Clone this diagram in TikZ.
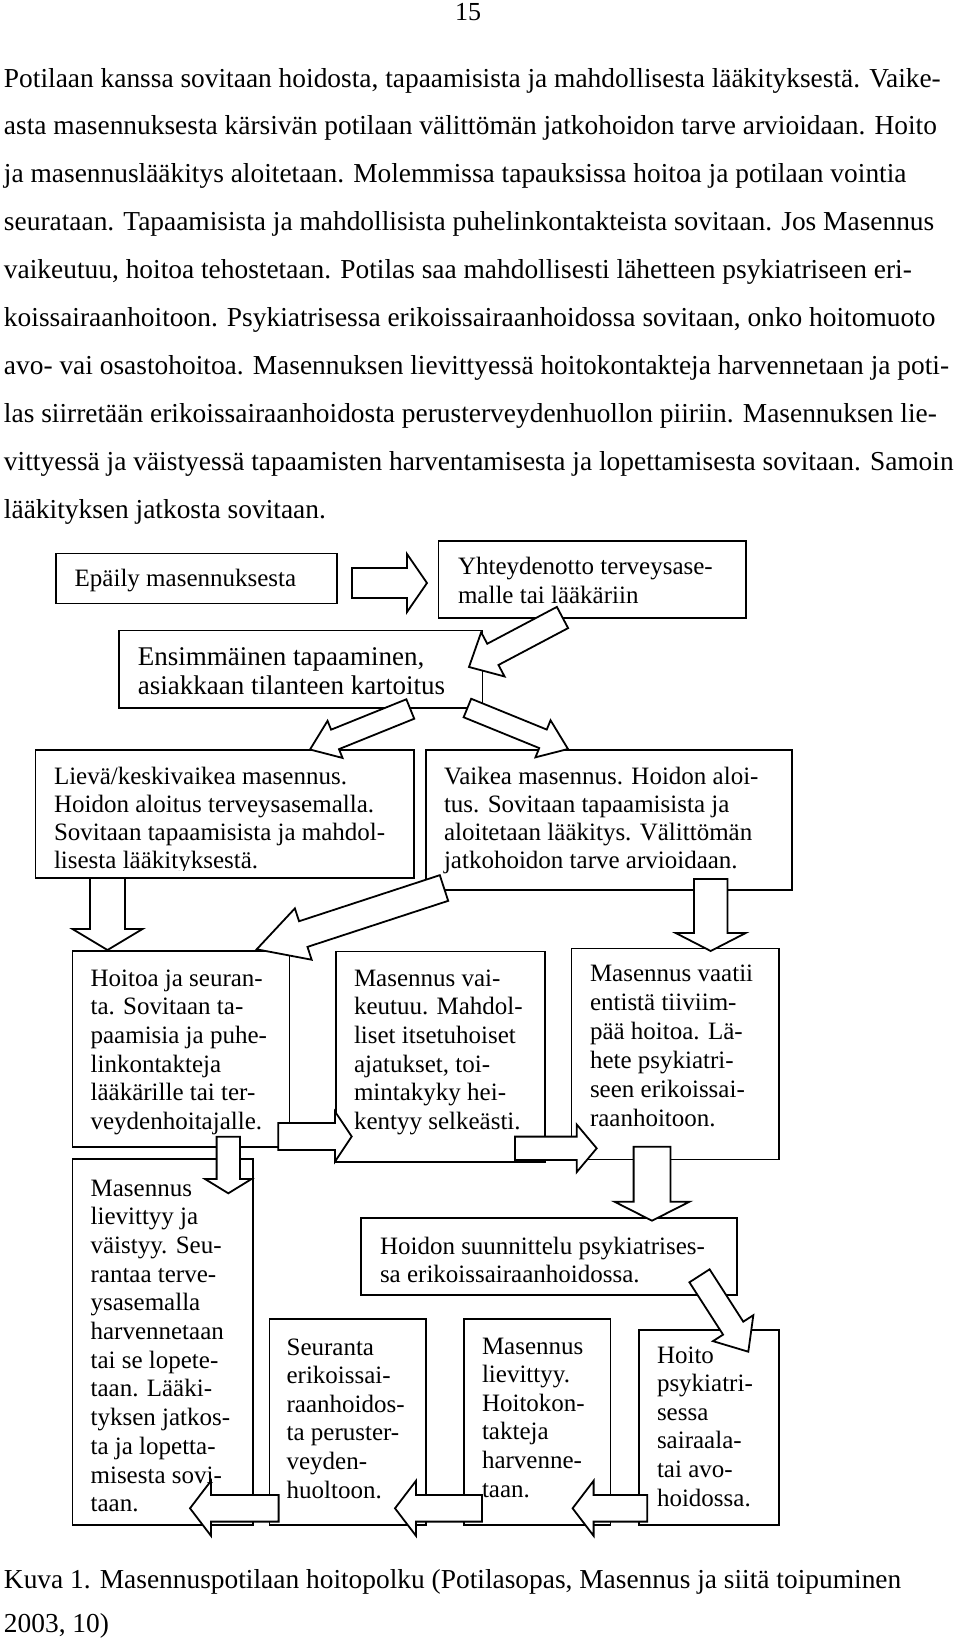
\documentclass[tikz,border=0pt]{standalone}
\usepackage{fontspec}
\setmainfont{Liberation Serif}
\usetikzlibrary{calc}
\newcommand\boxlines[2]{\vtop{\baselineskip=#1\lineskiplimit=-1000pt\lineskip=0pt\halign{##\hfil\cr#2\crcr}}}
\newcommand\blockarrow[5]{%
  \coordinate (ba-h) at ($(#2)!#5!(#1)$);
  \filldraw[barrow] ($(#1)!#3!90:(#2)$) -- ($(ba-h)!#3!-90:(#1)$) -- ($(ba-h)!#4!-90:(#1)$) -- (#2) -- ($(ba-h)!#4!90:(#1)$) -- ($(ba-h)!#3!90:(#1)$) -- ($(#1)!#3!-90:(#2)$) -- cycle;}
\tikzset{
  box/.style={draw=black, line width=1.8pt, fill=white, rectangle, inner sep=0pt, outer sep=0pt, anchor=north west},
  btext/.style={anchor=base west, inner sep=0pt, outer sep=0pt, font=\fontsize{25}{28.6}\selectfont},
  bodytext/.style={anchor=base west, inner sep=0pt, outer sep=0pt, font=\fontsize{27.4}{47.9}\selectfont},
  barrow/.style={draw=black, fill=white, line width=1.8pt, line join=miter}
}
\begin{document}
\begin{tikzpicture}[x=1pt,y=-1pt]
\fill[white] (0,0) rectangle (960,1641);
\useasboundingbox (0,0) rectangle (960,1641);

% page number and body text
\node[bodytext, anchor=base, font=\fontsize{26}{30}\selectfont] (pg) at (468,20) {15};
\node[bodytext] (l1) at (4,87) {Potilaan kanssa sovitaan hoidosta, tapaamisista ja mahdollisesta lääkityksestä. Vaike-};
\node[bodytext] (l2) at (4,134.9) {asta masennuksesta kärsivän potilaan välittömän jatkohoidon tarve arvioidaan. Hoito};
\node[bodytext] (l3) at (4,182.8) {ja masennuslääkitys aloitetaan. Molemmissa tapauksissa hoitoa ja potilaan vointia};
\node[bodytext] (l4) at (4,230.7) {seurataan. Tapaamisista ja mahdollisista puhelinkontakteista sovitaan. Jos Masennus};
\node[bodytext] (l5) at (4,278.6) {vaikeutuu, hoitoa tehostetaan. Potilas saa mahdollisesti lähetteen psykiatriseen eri-};
\node[bodytext] (l6) at (4,326.5) {koissairaanhoitoon. Psykiatrisessa erikoissairaanhoidossa sovitaan, onko hoitomuoto};
\node[bodytext] (l7) at (4,374.4) {avo- vai osastohoitoa. Masennuksen lievittyessä hoitokontakteja harvennetaan ja poti-};
\node[bodytext] (l8) at (4,422.3) {las siirretään erikoissairaanhoidosta perusterveydenhuollon piiriin. Masennuksen lie-};
\node[bodytext] (l9) at (4,470.2) {vittyessä ja väistyessä tapaamisten harventamisesta ja lopettamisesta sovitaan. Samoin};
\node[bodytext] (l10) at (4,518.1) {lääkityksen jatkosta sovitaan.};

% boxes
\node[box, minimum width=281pt, minimum height=50pt] (b1) at (56,553.5) {};
\node[box, minimum width=307.5pt, minimum height=77pt] (b2) at (438.5,541) {};
\node[box, minimum width=363.5pt, minimum height=77.5pt] (b3) at (119,630.5) {};
\node[box, minimum width=378.5pt, minimum height=128pt] (b4) at (35.5,750) {};
\node[box, minimum width=366pt, minimum height=140pt] (b5) at (426,750) {};
\node[box, minimum width=217pt, minimum height=196pt] (b6) at (72.5,951) {};
\node[box, minimum width=209.4pt, minimum height=210.5pt] (b7) at (335.6,951.5) {};
\node[box, minimum width=207.5pt, minimum height=211pt] (b8) at (571.5,948.5) {};
\node[box, minimum width=180.5pt, minimum height=366pt] (b9) at (72.5,1159) {};
\node[box, minimum width=376pt, minimum height=77pt] (b10) at (361,1218) {};
\node[box, minimum width=156.2pt, minimum height=206pt] (b11) at (269.4,1319) {};
\node[box, minimum width=146.9pt, minimum height=206pt] (b12) at (463.6,1319) {};
\node[box, minimum width=140.3pt, minimum height=195pt] (b13) at (638.7,1330) {};

% box texts
\node[btext] (t1) at (74.7,586.7) {\boxlines{28.6pt}{Epäily masennuksesta}};
\node[btext] (t2) at (458,574) {\boxlines{29.3pt}{Yhteydenotto terveysase-\cr malle tai lääkäriin}};
\node[btext, font=\fontsize{27}{30}\selectfont] (t3) at (137.8,665) {\boxlines{29.5pt}{Ensimmäinen tapaaminen,\cr asiakkaan tilanteen kartoitus}};
\begin{scope}
\clip (37,751) rectangle (412,870.5);
\node[btext] (t4) at (54,784) {\boxlines{28.2pt}{Lievä/keskivaikea masennus.\cr Hoidon aloitus terveysasemalla.\cr Sovitaan tapaamisista ja mahdol-\cr lisesta lääkityksestä.}};
\end{scope}
\node[btext] (t5) at (444,784) {\boxlines{28.2pt}{Vaikea masennus. Hoidon aloi-\cr tus. Sovitaan tapaamisista ja\cr aloitetaan lääkitys. Välittömän\cr jatkohoidon tarve arvioidaan.}};
\node[btext] (t6) at (90.6,986) {\boxlines{28.7pt}{Hoitoa ja seuran-\cr ta. Sovitaan ta-\cr paamisia ja puhe-\cr linkontakteja\cr lääkärille tai ter-\cr veydenhoitajalle.}};
\node[btext] (t7) at (354,986) {\boxlines{28.7pt}{Masennus vai-\cr keutuu. Mahdol-\cr liset itsetuhoiset\cr ajatukset, toi-\cr mintakyky hei-\cr kentyy selkeästi.}};
\node[btext] (t8) at (590,981.5) {\boxlines{28.9pt}{Masennus vaatii\cr entistä tiiviim-\cr pää hoitoa. Lä-\cr hete psykiatri-\cr seen erikoissai-\cr raanhoitoon.}};
\node[btext] (t9) at (90.6,1196) {\boxlines{28.7pt}{Masennus\cr lievittyy ja\cr väistyy. Seu-\cr rantaa terve-\cr ysasemalla\cr harvennetaan\cr tai se lopete-\cr taan. Lääki-\cr tyksen jatkos-\cr ta ja lopetta-\cr misesta sovi-\cr taan.}};
\node[btext] (t10) at (380,1254) {\boxlines{28.6pt}{Hoidon suunnittelu psykiatrises-\cr sa erikoissairaanhoidossa.}};
\node[btext] (t11) at (286.6,1355) {\boxlines{28.6pt}{Seuranta\cr erikoissai-\cr raanhoidos-\cr ta peruster-\cr veyden-\cr huoltoon.}};
\node[btext] (t12) at (482,1354) {\boxlines{28.6pt}{Masennus\cr lievittyy.\cr Hoitokon-\cr takteja\cr harvenne-\cr taan.}};
\node[btext] (t13) at (657,1363) {\boxlines{28.6pt}{Hoito\cr psykiatri-\cr sessa\cr sairaala-\cr tai avo-\cr hoidossa.}};

% arrow end points
\coordinate (a1s) at (352,583);      \coordinate (a1e) at (427,583);
\coordinate (a2s) at (562.5,617.5);  \coordinate (a2e) at (469,667);
\coordinate (a3s) at (410.3,709);    \coordinate (a3e) at (310,749.5);
\coordinate (a4s) at (467.4,708);    \coordinate (a4e) at (568,749);
\coordinate (a5s) at (107.5,878);    \coordinate (a5e) at (107.5,950);
\coordinate (a6s) at (444,888);      \coordinate (a6e) at (256.7,949.3);
\coordinate (a7s) at (710.7,879);    \coordinate (a7e) at (710.7,951);
\coordinate (a8s) at (278.3,1136.5); \coordinate (a8e) at (351.7,1136.5);
\coordinate (a9s) at (228.3,1136.7); \coordinate (a9e) at (228.3,1193.3);
\coordinate (a10s) at (515,1148.3);  \coordinate (a10e) at (596.7,1148.3);
\coordinate (a11s) at (652,1146.7);  \coordinate (a11e) at (652,1220.7);
\coordinate (a12s) at (699.5,1275.8);\coordinate (a12e) at (748.3,1351.7);
\coordinate (a13s) at (278.6,1508.3);\coordinate (a13e) at (190,1508.3);
\coordinate (a14s) at (482,1508.3);  \coordinate (a14e) at (395,1508.3);
\coordinate (a15s) at (647.3,1508.3);\coordinate (a15e) at (572.6,1508.3);

% block arrows
\blockarrow{a1s}{a1e}{15pt}{29pt}{20pt}
\blockarrow{a2s}{a2e}{12pt}{25pt}{27pt}
\blockarrow{a3s}{a3e}{10.5pt}{20pt}{27pt}
\blockarrow{a4s}{a4e}{10pt}{20pt}{27pt}
\blockarrow{a5s}{a5e}{17.5pt}{35pt}{21pt}
\blockarrow{a6s}{a6e}{13.5pt}{27pt}{49pt}
\blockarrow{a7s}{a7e}{16.8pt}{35pt}{18pt}
\blockarrow{a8s}{a8e}{13.5pt}{25pt}{16.7pt}
\blockarrow{a9s}{a9e}{11.7pt}{23.3pt}{14.3pt}
\blockarrow{a10s}{a10e}{11.7pt}{23.8pt}{20pt}
\blockarrow{a11s}{a11e}{18.4pt}{37.5pt}{19pt}
\blockarrow{a12s}{a12e}{12pt}{24pt}{28pt}
\blockarrow{a13s}{a13e}{13.3pt}{27.5pt}{21pt}
\blockarrow{a14s}{a14e}{13.3pt}{27.5pt}{21pt}
\blockarrow{a15s}{a15e}{13.3pt}{27.5pt}{21pt}

% caption
\node[bodytext] (c1) at (4,1588) {Kuva 1. Masennuspotilaan hoitopolku (Potilasopas, Masennus ja siitä toipuminen};
\node[bodytext] (c2) at (4,1632) {2003, 10)};
\end{tikzpicture}
\end{document}
